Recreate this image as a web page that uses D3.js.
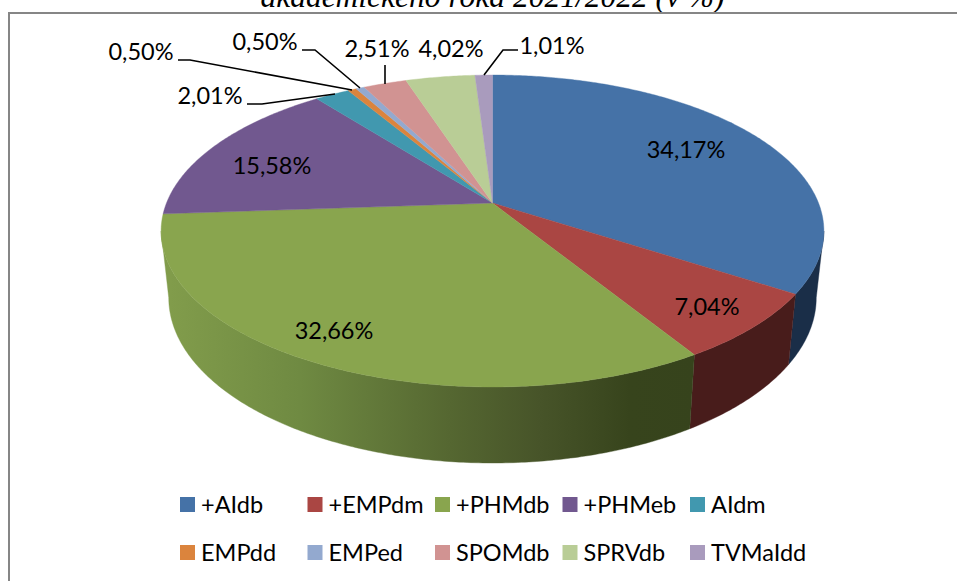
<!DOCTYPE html>
<html><head><meta charset="utf-8">
<script src="https://cdnjs.cloudflare.com/ajax/libs/d3/7.8.5/d3.min.js"></script>
<style>html,body{margin:0;padding:0;background:#fff;overflow:hidden}svg{display:block}</style>
</head><body><svg id="c" width="957" height="581"></svg>
<script>
const categories = ["+AIdb","+EMPdm","+PHMdb","+PHMeb","AIdm","EMPdd","EMPed","SPOMdb","SPRVdb","TVMaIdd"];
const values = [34.17,7.04,32.66,15.58,2.01,0.50,0.50,2.51,4.02,1.01];
const labels = ["34,17%","7,04%","32,66%","15,58%","2,01%","0,50%","0,50%","2,51%","4,02%","1,01%"];
const colors = ["#4572A7","#AA4643","#89A54E","#71588F","#4198AF","#DB843D","#93A9CF","#D19392","#B9CD96","#A99BBD"];
const title = "akademického roka 2021/2022 (v %)";

// layout (not data)
const W = 957, H = 581;
const labelPos = [[686,158],[707,315],[334,339],[272,174],[210,104],[141,60],[265,50],[377,57],[451,57],[552,54]];
const leaders = {4:[[247,104],[262,104],[335,94]],5:[[178,60],[190,60],[352,90]],6:[[302,50],[315,50],[360,88]],7:[[385,65],[385,84]],9:[[518,50],[503,50],[484,75]]};
const wallColors = {0:"#1A2E48",1:"#481C1B",2:"url(#gw)"};
const greenStops = [[170,"#819C4B"],[300,"#6F8A42"],[450,"#556731"],[540,"#475429"],[630,"#37441C"],[695,"#36431C"]];

// projective mapping of a tilted disc
const cx = 492.5, K = 326, K2 = 318.5, a = -0.1795;
const project = (t, c, b, k) => {
  const u = Math.sin(t), v = -Math.cos(t), d = 1 + a*v;
  return [cx + k*u/d, (c + b*v)/d];
};
const topPt = t => project(t, 203, 114.5, K);
const botPt = t => project(t, 268, 111.9, K2);
const wallStart = Math.acos(a), wallEnd = 2*Math.PI - wallStart;

const svg = d3.select("#c");
const color = d3.scaleOrdinal(categories, colors);
const arcs = d3.pie().sort(null).value((d,i)=>values[i])(categories);
const line = d3.line();
const sample = (s,e) => { const n = Math.max(2, Math.ceil((e-s)/0.01)); return d3.range(n+1).map(i=>s+(e-s)*i/n); };

const defs = svg.append("defs");
const grad = defs.append("linearGradient").attr("id","gw").attr("gradientUnits","userSpaceOnUse")
  .attr("x1",greenStops[0][0]).attr("x2",greenStops[greenStops.length-1][0]).attr("y1",0).attr("y2",0);
const sx = d3.scaleLinear().domain([greenStops[0][0],greenStops[greenStops.length-1][0]]).range([0,1]);
greenStops.forEach(s=>grad.append("stop").attr("offset",sx(s[0])).attr("stop-color",s[1]));

// frame and title
svg.append("text").attr("x",492.5).attr("y",6.5).attr("text-anchor","middle")
  .attr("font-family","Liberation Serif").attr("font-style","italic").attr("font-size",31.5).attr("fill","#000").text(title);
svg.append("path").attr("d",line([[9,H],[9,13],[W,13]])).attr("fill","none").attr("stroke","#868686").attr("stroke-width",2);

// walls: only the part of each slice on the visible front side
const g = svg.append("g");
arcs.forEach((d,i)=>{
  const s = Math.max(d.startAngle,wallStart), e = Math.min(d.endAngle,wallEnd);
  if(s>=e) return;
  const ts = sample(s,e);
  const pts = ts.map(topPt).concat(ts.slice().reverse().map(botPt));
  g.append("path").attr("d",line(pts)+"Z").attr("fill",wallColors[i]).attr("stroke",wallColors[i]).attr("stroke-width",0.4);
});
// top face
arcs.forEach(d=>{
  const pts = [[cx,203]].concat(sample(d.startAngle,d.endAngle).map(topPt));
  g.append("path").attr("d",line(pts)+"Z").attr("fill",color(d.data)).attr("stroke",color(d.data)).attr("stroke-width",0.4);
});

// leaders
Object.values(leaders).forEach(p=>svg.append("path").attr("d",line(p)).attr("fill","none").attr("stroke","#000").attr("stroke-width",1.6));

// labels
const font = "Lato, Carlito, Calibri, sans-serif";
labels.forEach((t,i)=>svg.append("text").attr("x",labelPos[i][0]).attr("y",labelPos[i][1]).attr("text-anchor","middle")
  .attr("font-family",font).attr("font-size",23.5).attr("fill","#000").text(t));

// legend
const legX = d3.scalePoint().domain(d3.range(5)).range([180,690]);
const legY = d3.scalePoint().domain([0,1]).range([497,545]);
categories.forEach((c,i)=>{
  const x = legX(i%5), y = legY(Math.floor(i/5));
  svg.append("rect").attr("x",x).attr("y",y).attr("width",15).attr("height",15).attr("fill",color(c));
  svg.append("text").attr("x",x+21).attr("y",y+15.5).attr("font-family",font).attr("font-size",23.5).attr("fill","#000").text(c);
});
</script></body></html>
